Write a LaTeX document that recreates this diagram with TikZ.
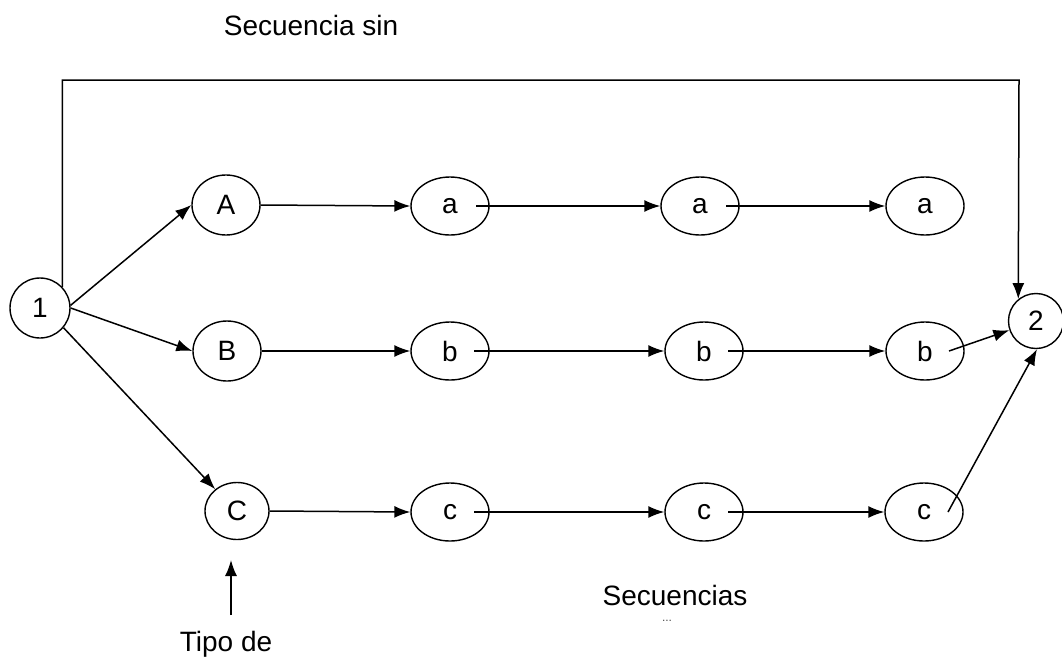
\documentclass[tikz,border=0pt]{standalone}
\usepackage{fontspec}
\setmainfont{Liberation Sans}
\usetikzlibrary{shapes.geometric,arrows.meta}
\begin{document}
\begin{tikzpicture}[x=1pt,y=-1pt,
  every node/.style={font=\fontsize{28}{34}\selectfont},
  circ/.style={draw,circle,line width=1.4pt,inner sep=0pt,minimum size=#1},
  ell/.style={draw,ellipse,line width=1.4pt,inner sep=0pt},
  big/.style={ell,minimum width=68pt,minimum height=60pt},
  small/.style={ell,minimum width=78pt,minimum height=58pt},
  conn/.style={line width=1.5pt,-{Latex[length=16pt,width=12pt]}},
  lbl/.style={inner sep=0pt,anchor=base}]
\useasboundingbox (0,0) rectangle (1062,656);
% nodes
\node[circ=60pt] (n1) at (40,308) {1};
\node[circ=55pt] (n2) at (1036,321) {2};
\node[big] (A) at (226,205) {A};
\node[big] (B) at (227,351) {B};
\node[big,minimum width=64pt,minimum height=57pt] (C) at (237,511) {C};
\node[small] (a1) at (450,206) {a};
\node[small] (a2) at (700,206) {a};
\node[small] (a3) at (925,206) {a};
\node[small] (b1) at (450,351) {b};
\node[small] (b2) at (704,351) {b};
\node[small] (b3) at (925,351) {b};
\node[small] (c1) at (450,512) {c};
\node[small] (c2) at (704,512) {c};
\node[small] (c3) at (924,512) {c};
% texts
\node[lbl] (t1) at (311,35) {Secuencia sin};
\node[lbl] (t2) at (675,605) {Secuencias};
\node[lbl,font=\fontsize{12}{14}\selectfont,text=black!70] (t3) at (667,621) {...};
\node[lbl] (t4) at (226,651) {Tipo de};
\coordinate (topR) at (1019,80);
\coordinate (tipoStart) at (231,615);
\coordinate (tipoEnd) at (231,560);
% connectors
\draw[conn] (n1.43) |- (topR) -- (n2.129);
\draw[conn] (n1.5) -- (A.west);
\draw[conn] (n1.0) -- (B.west);
\draw[conn] (n1.-40) -- (C.135);
\draw[conn] (A.east) -- (a1.west);
\draw[conn] ([xshift=26pt]a1.center) -- (a2.west);
\draw[conn] ([xshift=26pt]a2.center) -- (a3.west);
\draw[conn] (B.east) -- (b1.west);
\draw[conn] ([xshift=24pt]b1.center) -- (b2.west);
\draw[conn] ([xshift=24pt]b2.center) -- (b3.west);
\draw[conn] ([xshift=24pt]b3.center) -- (n2);
\draw[conn] (C.east) -- (c1.west);
\draw[conn] ([xshift=24pt]c1.center) -- (c2.west);
\draw[conn] ([xshift=24pt]c2.center) -- (c3.west);
\draw[conn] ([xshift=24pt]c3.center) -- (n2.-88);
\draw[conn] (tipoStart) -- (tipoEnd);
\end{tikzpicture}
\end{document}
